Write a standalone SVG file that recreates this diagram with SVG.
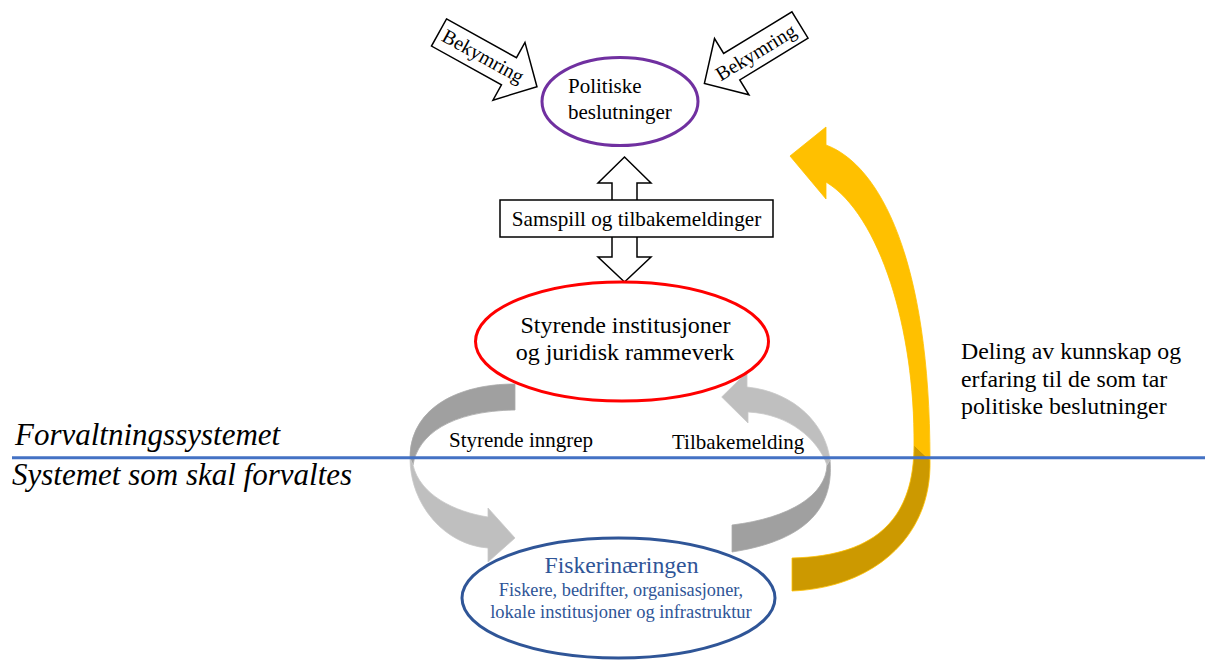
<svg xmlns="http://www.w3.org/2000/svg" width="1205" height="661" viewBox="0 0 1205 661">
<style>
text{font-family:"Liberation Serif","Times New Roman",serif;fill:#000}
.blk{fill:#fff;stroke:#000;stroke-width:1.5}
.gl{fill:#BFBFBF;stroke:#C9C9C9;stroke-width:0.8}
.gd{fill:#A0A0A0;stroke:#ABABAB;stroke-width:0.8}
.yl{fill:#FFC000;stroke:#FFC000;stroke-width:0.8}
.yd{fill:#CC9900;stroke:#FFC000;stroke-width:0.8}
.lbl{font-size:20px}
.it{font-style:italic;font-size:31px}
.fish{fill:#2F5597}
</style>
<defs>
<polygon id="bigarrow" points="0,-15.5 80,-15.5 80,-33 112,0 80,33 80,15.5 0,15.5" class="blk"/>
</defs>

<g id="connectors">
<g id="bekymring-left" transform="translate(439,32.5) rotate(29)">
<use href="#bigarrow"/>
<text x="50" y="6" class="lbl" text-anchor="middle">Bekymring</text>
</g>
<g id="bekymring-right" transform="translate(800,25) rotate(148.6)">
<use href="#bigarrow"/>
<text transform="translate(52,0) rotate(180)" x="0" y="7" class="lbl" text-anchor="middle">Bekymring</text>
</g>

<g id="samspill">
<polygon class="blk" points="624.5,157 651,183 637,183 637,257 651,257 624.5,282 598,257 612,257 612,183 598,183"/>
<rect class="blk" x="500" y="200" width="273" height="37"/>
<text x="636.5" y="226" font-size="21.2" text-anchor="middle">Samspill og tilbakemeldinger</text>
</g>

<g id="styrende-inngrep">
<path class="gd" d="M515,384 C455,384 410,410 410,458 L413,465 C418,435 450,411 515,410 Z"/>
<path class="gl" d="M410,458 C410,505 445,545 488,548 L488,562 L515,538 L488,508 L488,517 C455,512 420,495 413,465 Z"/>
<text x="449" y="447" font-size="21">Styrende inngrep</text>
</g>

<g id="tilbakemelding">
<path class="gd" d="M830,460 C834,505 810,540 732,552 L732,525 C790,518 826,495 827,465 Z"/>
<path class="gl" d="M747,372 L721.7,397 L748,423 L748,412 C790,414 818,440 827,465 L830,460 C826,425 795,392 747,387 Z"/>
<text x="672" y="449" font-size="21">Tilbakemelding</text>
</g>

<g id="deling">
<path class="yd" d="M930,460 C932,540 870,588 792,591 L792,558 C880,556 914,515 914,445 Z"/>
<path class="yl" d="M826,145 C880,165 930,260 930,460 L914,445 C915,330 880,215 826,182 L826,199 L790,156 L826,127 Z"/>
</g>
</g>

<g id="politiske">
<ellipse cx="620" cy="101.5" rx="78" ry="44" fill="none" stroke="#7030A0" stroke-width="3"/>
<text x="568" y="93" font-size="21">Politiske</text>
<text x="568" y="119" font-size="21">beslutninger</text>
</g>

<g id="styrende">
<ellipse cx="622" cy="341.5" rx="146.5" ry="59.5" fill="none" stroke="#FF0000" stroke-width="3"/>
<text x="625.5" y="333" font-size="24" text-anchor="middle">Styrende institusjoner</text>
<text x="625" y="360" font-size="24" text-anchor="middle">og juridisk rammeverk</text>
</g>

<g id="fiskerinaeringen">
<ellipse cx="618.5" cy="598" rx="156.5" ry="60" fill="none" stroke="#2F5597" stroke-width="3"/>
<text class="fish" x="621.5" y="573" font-size="23.7" text-anchor="middle">Fiskerinæringen</text>
<text class="fish" x="621" y="596" font-size="18.3" text-anchor="middle">Fiskere, bedrifter, organisasjoner,</text>
<text class="fish" x="621" y="618" font-size="18.5" text-anchor="middle">lokale institusjoner og infrastruktur</text>
</g>

<g id="deling-tekst">
<text x="961" y="359" font-size="23.8">Deling av kunnskap og</text>
<text x="961" y="386.5" font-size="23.8">erfaring til de som tar</text>
<text x="961" y="413.5" font-size="23.8">politiske beslutninger</text>
</g>

<g id="skillelinje">
<line x1="12" y1="457.7" x2="1205" y2="457.7" stroke="#4472C4" stroke-width="3"/>
<text class="it" x="15" y="444.5">Forvaltningssystemet</text>
<text class="it" x="12" y="485">Systemet som skal forvaltes</text>
</g>
</svg>
